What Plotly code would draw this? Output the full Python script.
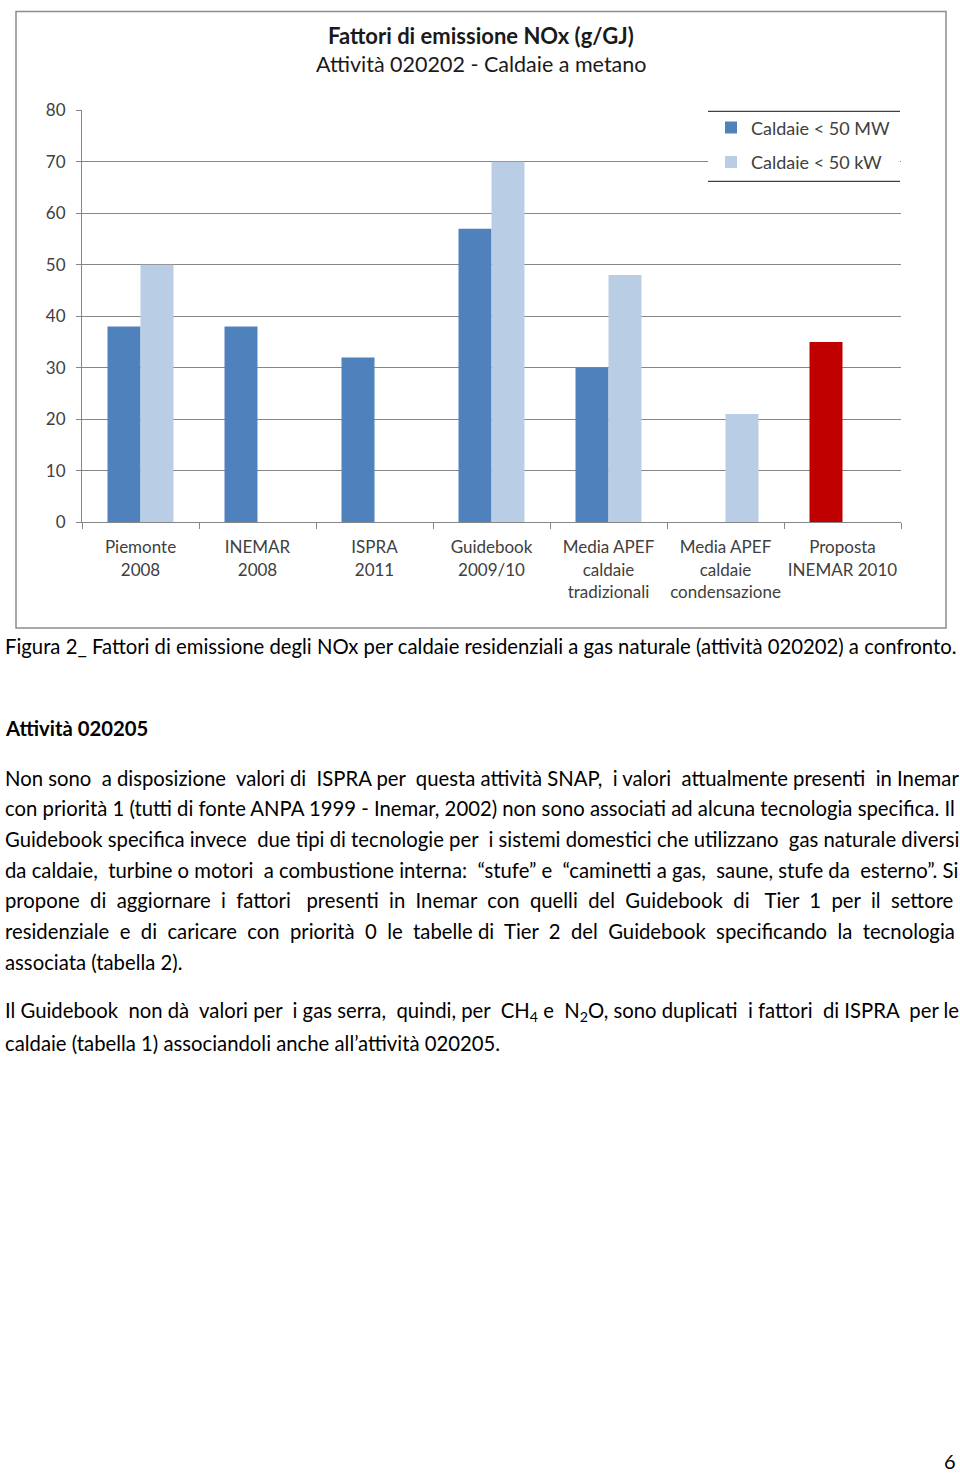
import plotly.graph_objects as go

W, H = 960, 1474

categories = ["Piemonte<br>2008", "INEMAR<br>2008", "ISPRA<br>2011", "Guidebook<br>2009/10",
              "Media APEF<br>caldaie<br>tradizionali", "Media APEF<br>caldaie<br>condensazione",
              "Proposta<br>INEMAR 2010"]
series_mw_name = "Caldaie < 50 MW"
series_mw = [38, 38, 32, 57, 30, None, 35]
series_kw_name = "Caldaie < 50 kW"
series_kw = [50, None, None, 70, 48, 21, None]
y_ticks = [0, 10, 20, 30, 40, 50, 60, 70, 80]

chart_title = "Fattori di emissione NOx (g/GJ)"
chart_subtitle = "Attività 020202 - Caldaie a metano"
caption = "Figura 2_ Fattori di emissione degli NOx per caldaie residenziali a gas naturale (attività 020202) a confronto."
heading = "Attività 020205"
para1 = [
    "Non sono a disposizione valori di ISPRA per questa attività SNAP, i valori attualmente presenti in Inemar",
    "con priorità 1 (tutti di fonte ANPA 1999 - Inemar, 2002) non sono associati ad alcuna tecnologia specifica. Il",
    "Guidebook specifica invece due tipi di tecnologie per i sistemi domestici che utilizzano gas naturale diversi",
    "da caldaie, turbine o motori a combustione interna: “stufe” e “caminetti a gas, saune, stufe da esterno”. Si",
    "propone di aggiornare i fattori presenti in Inemar con quelli del Guidebook di Tier 1 per il settore",
    "residenziale e di caricare con priorità 0 le tabelle di Tier 2 del Guidebook specificando la tecnologia",
    "associata (tabella 2).",
]
para2 = [
    "Il Guidebook non dà valori per i gas serra, quindi, per CH<sub>4</sub> e N<sub>2</sub>O, sono duplicati i fattori di ISPRA per le",
    "caldaie (tabella 1) associandoli anche all’attività 020205.",
]
page_number = "6"

# styling: approximate extra px needed to justify each line (Word-style justified text)
para1_justify = [36, 2, 14, 31, 103, 82, 0]
para2_justify = [46, 0]
SPACE_PX = 5.4

DARK = "#4F81BD"
LIGHT = "#B9CDE5"
RED = "#C00000"
FONT = "Lato"
BODY = 20.3

# the page is shown slightly squeezed vertically: picture_y = S * figure_y + OFF
S, OFF = 0.9866, 10.5


def py(y):
    fy = (y - OFF) / S
    fy = min(max(fy, 0.5), H - 0.5)
    return 1 - fy / H


def px(x):
    return x / W


def justify(line, extra):
    words = line.split(" ")
    gaps = len(words) - 1
    n = int(round(extra / SPACE_PX))
    if gaps <= 0 or n <= 0:
        return line
    out = words[0]
    acc = 0
    for i in range(1, len(words)):
        target = round(n * i / gaps)
        add = target - acc
        acc = target
        out += " " + "\u00a0" * add + words[i]
    return out


mw_colors = [DARK] * len(categories)
mw_colors[-1] = RED

fig = go.Figure()
fig.add_trace(go.Bar(x=categories, y=series_mw, name=series_mw_name,
                     marker=dict(color=mw_colors, line=dict(width=0)), legendgroup="a"))
fig.add_trace(go.Bar(x=categories, y=series_kw, name=series_kw_name,
                     marker=dict(color=LIGHT, line=dict(width=0)), legendgroup="b"))

fig.update_layout(
    width=W, height=H,
    margin=dict(l=0, r=0, t=0, b=0),
    paper_bgcolor="white", plot_bgcolor="white",
    barmode="group", bargap=0.436, bargroupgap=0,
    font=dict(family=FONT, color="#404040", size=16),
    showlegend=True,
    legend=dict(x=px(711), y=py(109), xanchor="left", yanchor="top",
                bgcolor="rgba(0,0,0,0)", font=dict(size=18, color="#404040"),
                tracegroupgap=8, itemwidth=30),
    xaxis=dict(domain=[px(82), px(901)], type="category",
               showline=True, linecolor="#868686", linewidth=1,
               ticks="outside", ticklen=6, tickcolor="#868686", tickson="boundaries",
               tickfont=dict(size=17, color="#404040"), showgrid=False, ticklabelstandoff=10,
               tickangle=0),
    yaxis=dict(domain=[py(522), py(110)], range=[0, 80], tickvals=y_ticks,
               showline=True, linecolor="#868686", linewidth=1,
               ticks="outside", ticklen=5, tickcolor="#868686",
               showgrid=True, gridcolor="#868686", gridwidth=1, zeroline=False,
               tickfont=dict(size=17, color="#404040"), ticklabelstandoff=7),
)

shapes = [
    dict(type="rect", xref="paper", yref="paper", x0=px(16), x1=px(946), y0=py(628), y1=py(3),
         line=dict(color="#8c8c8c", width=1.5), fillcolor="rgba(0,0,0,0)", layer="above"),
    dict(type="rect", xref="paper", yref="paper", x0=px(708), x1=px(900), y0=py(181), y1=py(111),
         line=dict(width=0), fillcolor="white", layer="above"),
    dict(type="line", xref="paper", yref="paper", x0=px(708), x1=px(900), y0=py(111), y1=py(111),
         line=dict(color="#404040", width=1.2), layer="above"),
    dict(type="line", xref="paper", yref="paper", x0=px(708), x1=px(900), y0=py(181), y1=py(181),
         line=dict(color="#404040", width=1.2), layer="above"),
]
fig.update_layout(shapes=shapes)

ann = []


def text(t, x, y, size, bold=False, xanchor="left", color="black"):
    ann.append(dict(text=f"<b>{t}</b>" if bold else t, x=px(x), y=py(y), xref="paper", yref="paper",
                    xanchor=xanchor, yanchor="middle", showarrow=False,
                    font=dict(size=size, color=color, family=FONT)))


text(chart_title, 481, 35, 22, bold=True, xanchor="center", color="#1a1a1a")
text(chart_subtitle, 481, 64, 21.5, xanchor="center", color="#1a1a1a")
text(caption, 3, 646, BODY)
text(heading, 3, 728, BODY, bold=True)
for i, line in enumerate(para1):
    text(justify(line, para1_justify[i]), 3, 778 + i * 30.67, BODY)
for i, line in enumerate(para2):
    text(justify(line, para2_justify[i]), 3, 1012 + i * 31, BODY)
text(page_number, 958, 1462, 20, xanchor="right")

fig.update_layout(annotations=ann)
fig.write_html("out.html")
